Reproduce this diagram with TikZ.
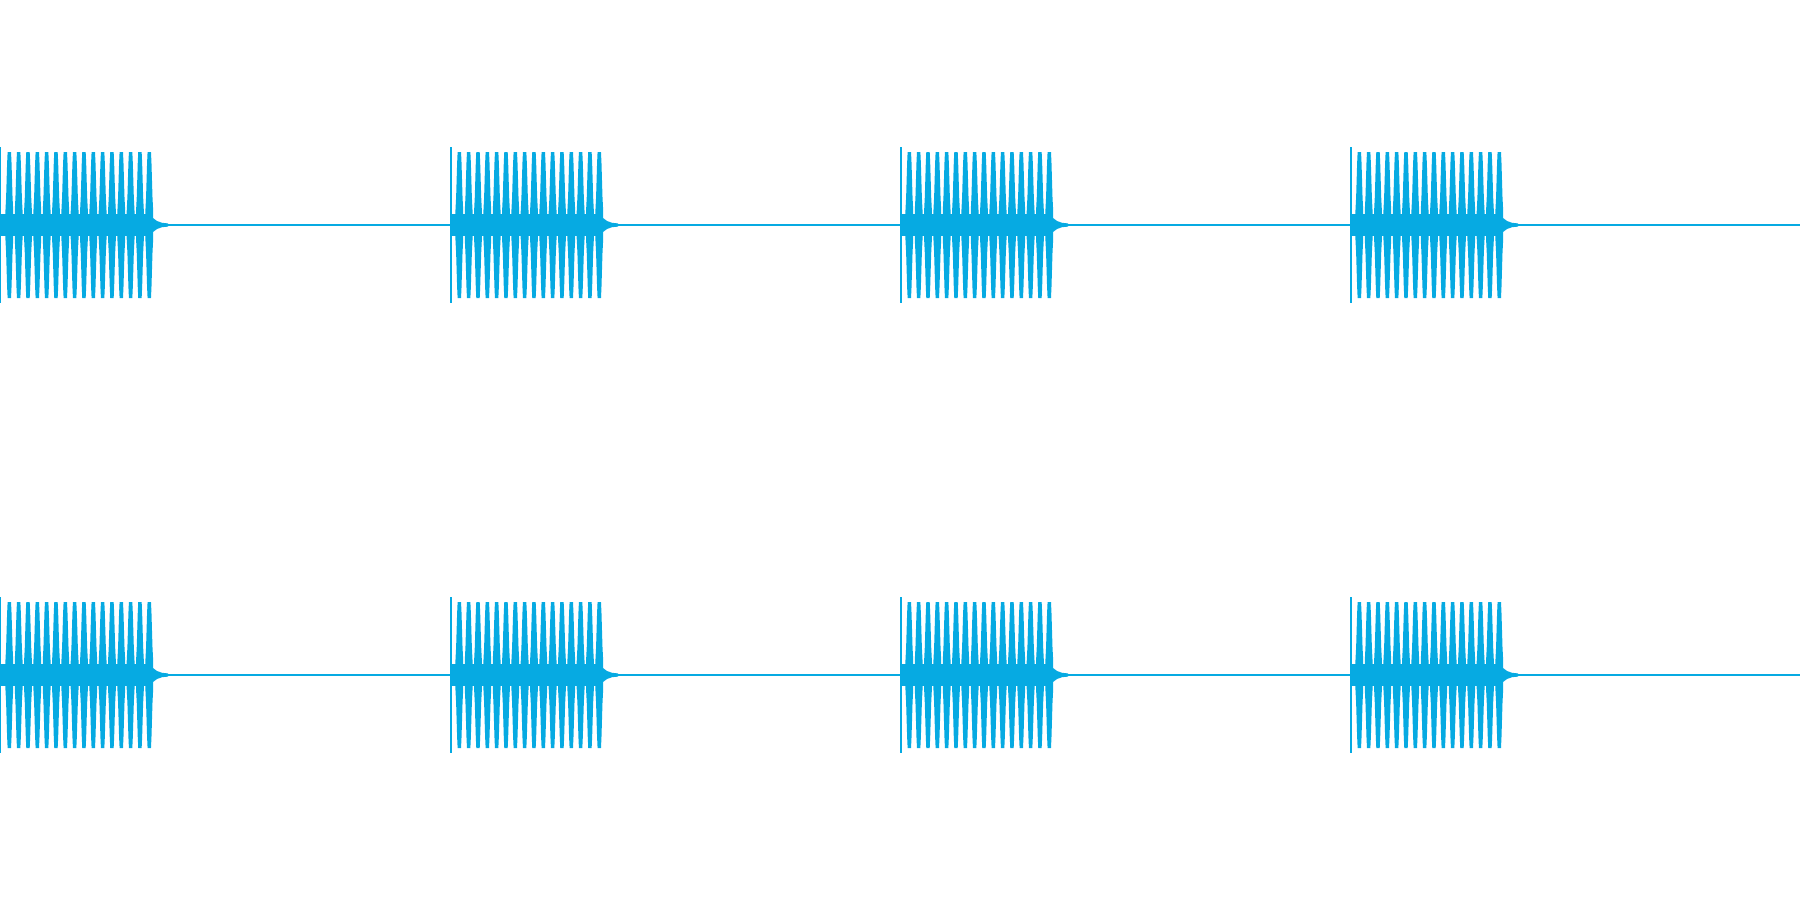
\documentclass[tikz,border=0pt]{standalone}
\definecolor{wavec}{RGB}{6,170,226}
\tikzset{
  wave/.style={fill=wavec, draw=none},
  baseline/.style={draw=wavec, line width=0.013cm},
}
\begin{document}
\begin{tikzpicture}[x=0.01cm, y=-0.01cm]
\useasboundingbox (0,0) rectangle (1800,900);
\clip (0,0) rectangle (1800,900);
\foreach \c in {225,675}{
  \draw[baseline] (0,\c) -- (1800,\c);
  \foreach \b in {0,450,900,1350}{
    \begin{scope}[shift={(\b,\c)}]
      % start spike
      \fill[wave] (0,-78) rectangle (1.5,78);
      % central band
      \fill[wave] (0.5,-11) rectangle (151,11);
      % pulses
      \foreach \k in {1,...,16}{
        \fill[wave, shift={({9.33*\k},0)}]
          (-1.7,-73) -- (1.7,-73) -- (2.2,-62) -- (2.7,-45) -- (3.2,-28) -- (3.9,-14)
          -- (3.9,14) -- (3.2,28) -- (2.7,45) -- (2.2,62) -- (1.7,73)
          -- (-1.7,73) -- (-2.2,62) -- (-2.7,45) -- (-3.2,28) -- (-3.9,14)
          -- (-3.9,-14) -- (-3.2,-28) -- (-2.7,-45) -- (-2.2,-62) -- cycle;
      }
      % decaying tail
      \fill[wave] (150,-11) -- (153,-7) -- (157,-4) -- (162,-2.2) -- (168,-1.6)
        -- (168,1.6) -- (162,2.2) -- (157,4) -- (153,7) -- (150,11) -- cycle;
    \end{scope}
  }
}
\end{tikzpicture}
\end{document}
